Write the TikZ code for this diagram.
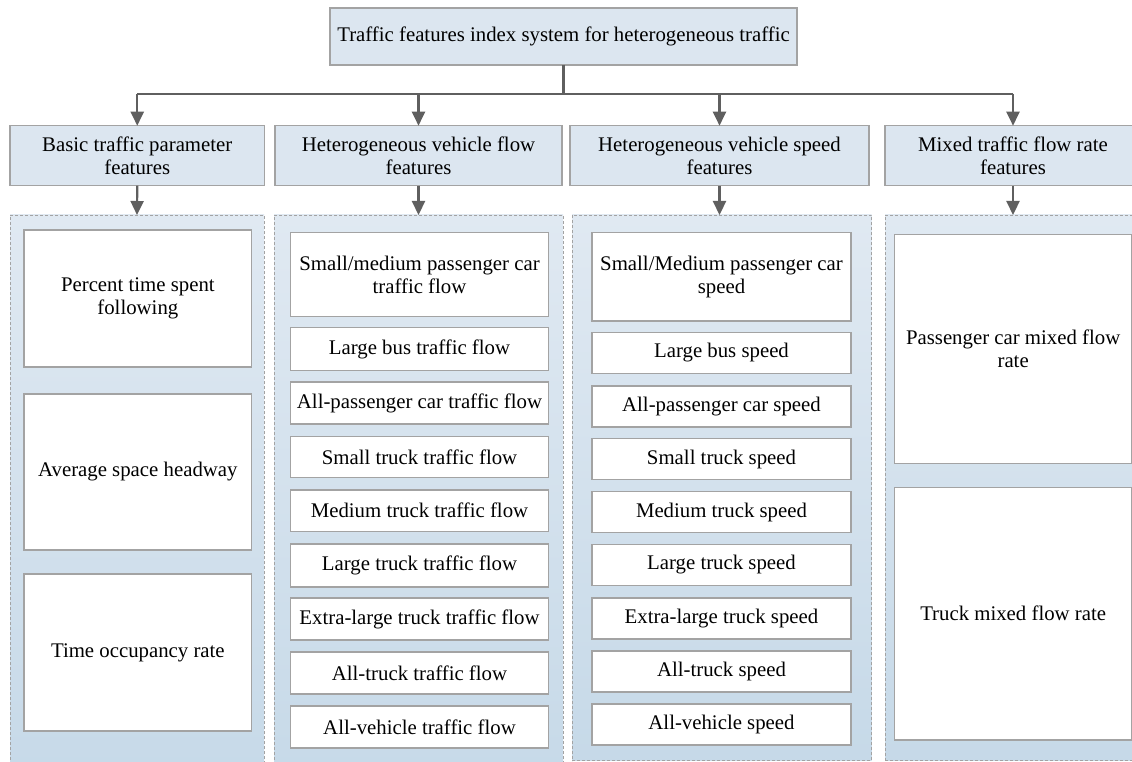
\documentclass[tikz,border=0pt]{standalone}
\usepackage{fontspec}
\setmainfont{Liberation Serif}
\usetikzlibrary{arrows.meta}
\definecolor{hdrfill}{HTML}{DCE6F0}
\definecolor{hdrline}{HTML}{A3A3A3}
\definecolor{arrowc}{HTML}{5F5F5F}
\definecolor{contop}{HTML}{E0E9F2}
\definecolor{conbot}{HTML}{C6D9E8}
\newcommand\mkbox[7]{\node[#6, minimum width={#4pt-#2pt}, minimum height={#5pt-#3pt}] (#1) at ({(#2+#4)/2},{(#3+#5)/2}) {#7};}
\begin{document}
\begin{tikzpicture}[x=1pt,y=-1pt,
  txt/.style={align=center, font=\fontsize{20.8}{23}\selectfont, text=black},
  hdr/.style={txt, draw=hdrline, fill=hdrfill, line width=1.1pt, inner sep=0pt, outer sep=0pt},
  item/.style={txt, draw=hdrline, fill=white, line width=1.1pt, inner sep=0pt, outer sep=0pt},
  group/.style={draw=hdrline, dash pattern=on 3pt off 2pt, line width=0.8pt, top color=contop, bottom color=conbot, inner sep=0pt, outer sep=0pt},
  trunk/.style={draw=arrowc, line width=2.2pt},
  conn/.style={draw=arrowc, line width=2.2pt, -{Triangle[length=14pt,width=13pt]}}]
\clip (0,0) rectangle (1132,762);
\fill[white] (0,0) rectangle (1132,762);
% top
\mkbox{top}{330}{8}{797}{65}{hdr}{Traffic features index system for heterogeneous traffic}
% headers
\mkbox{h1}{10}{125.7}{264.5}{185.7}{hdr}{Basic traffic parameter\\features}
\mkbox{h2}{275}{125.7}{562}{185.7}{hdr}{Heterogeneous vehicle flow\\features}
\mkbox{h3}{570}{125.7}{869}{185.7}{hdr}{Heterogeneous vehicle speed\\features}
\mkbox{h4}{885}{125.7}{1141}{185.7}{hdr}{Mixed traffic flow rate\\features}
% groups
\mkbox{c1}{10}{215}{264}{790}{group}{}
\mkbox{c2}{274}{215}{563}{790}{group}{}
\mkbox{c3}{572}{215}{871.5}{760.5}{group}{}
\mkbox{c4}{885}{215}{1141}{760.5}{group}{}
% column 1
\mkbox{a1}{24}{230}{251.7}{367}{item}{Percent time spent\\following}
\mkbox{a2}{24}{394}{251.7}{550}{item}{Average space headway}
\mkbox{a3}{24}{574}{251.7}{731}{item}{Time occupancy rate}
% column 2
\mkbox{b1}{290.7}{232.7}{548.3}{316.7}{item}{Small/medium passenger car\\traffic flow}
\mkbox{b2}{290.7}{327.3}{548.3}{370.7}{item}{Large bus traffic flow}
\mkbox{b3}{290.7}{382}{548.3}{424}{item}{All-passenger car traffic flow}
\mkbox{b4}{290.7}{436.5}{548.3}{477.7}{item}{Small truck traffic flow}
\mkbox{b5}{290.7}{490}{548.3}{531.5}{item}{Medium truck traffic flow}
\mkbox{b6}{290.7}{544}{548.3}{587}{item}{Large truck traffic flow}
\mkbox{b7}{290.7}{598}{548.3}{640}{item}{Extra-large truck traffic flow}
\mkbox{b8}{290.7}{652}{548.3}{694}{item}{All-truck traffic flow}
\mkbox{b9}{290.7}{706}{548.3}{748}{item}{All-vehicle traffic flow}
% column 3
\mkbox{s1}{592}{232.7}{851}{321}{item}{Small/Medium passenger car\\speed}
\mkbox{s2}{592}{332.3}{851}{373.3}{item}{Large bus speed}
\mkbox{s3}{592}{386}{851}{427}{item}{All-passenger car speed}
\mkbox{s4}{592}{438.5}{851}{479.5}{item}{Small truck speed}
\mkbox{s5}{592}{491.5}{851}{532.5}{item}{Medium truck speed}
\mkbox{s6}{592}{544.5}{851}{585.5}{item}{Large truck speed}
\mkbox{s7}{592}{598}{851}{639}{item}{Extra-large truck speed}
\mkbox{s8}{592}{651}{851}{692}{item}{All-truck speed}
\mkbox{s9}{592}{704}{851}{745}{item}{All-vehicle speed}
% column 4
\mkbox{m1}{894.3}{234.3}{1132}{463.3}{item}{Passenger car mixed flow\\rate}
\mkbox{m2}{894.3}{487.3}{1132}{740}{item}{Truck mixed flow rate}
% connectors
\coordinate (bus) at (563.5,94);
\draw[trunk] (top.south) -- (bus);
\draw[trunk] (h1.north |- bus) -- (h4.north |- bus);
\foreach \h in {h1,h2,h3,h4} \draw[conn] (\h.north |- bus) -- (\h.north);
\draw[conn] (h1.south) -- (c1.north);
\draw[conn] (h2.south) -- (c2.north);
\draw[conn] (h3.south) -- (h3.south |- c3.north);
\draw[conn] (h4.south) -- (c4.north);
\end{tikzpicture}
\end{document}
